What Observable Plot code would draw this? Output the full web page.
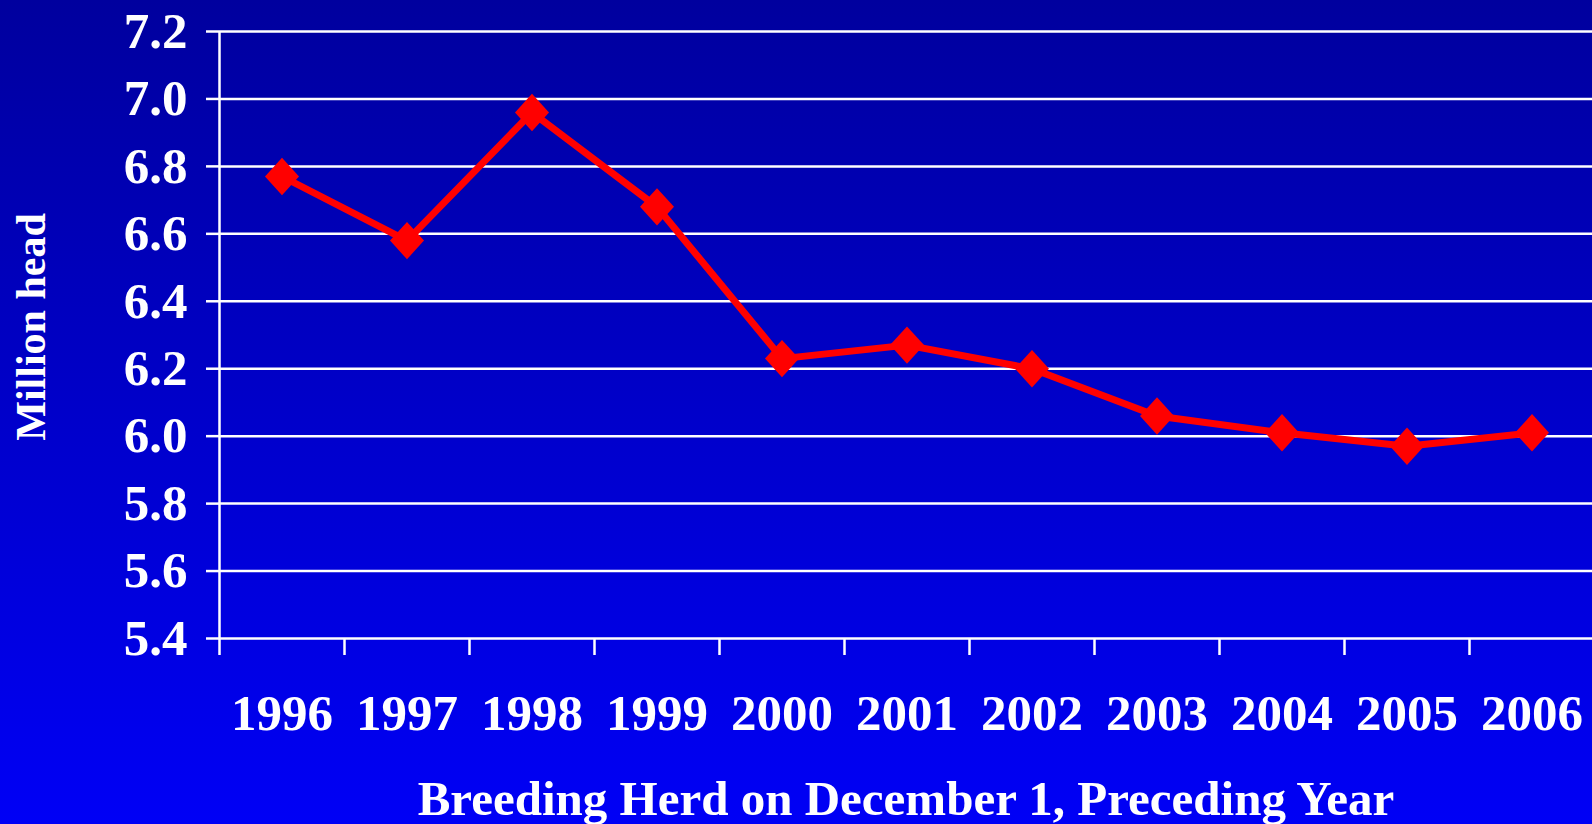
<!DOCTYPE html>
<html>
<head>
<meta charset="utf-8">
<script src="https://cdn.jsdelivr.net/npm/d3@7"></script>
<script src="https://cdn.jsdelivr.net/npm/@observablehq/plot@0.6"></script>
<style>
  html, body { margin: 0; padding: 0; overflow: hidden; background: #0000C8; }
  #chart svg { display: block; }
</style>
</head>
<body>
<div id="chart"></div>
<script>
const years = [1996, 1997, 1998, 1999, 2000, 2001, 2002, 2003, 2004, 2005, 2006];
const values = [6.77, 6.58, 6.96, 6.68, 6.23, 6.27, 6.20, 6.06, 6.01, 5.97, 6.01];
const yTicks = [5.4, 5.6, 5.8, 6.0, 6.2, 6.4, 6.6, 6.8, 7.0, 7.2];
const yLabel = "Million head";
const xLabel = "Breeding Herd on December 1, Preceding Year";

const data = years.map((year, i) => ({year, value: values[i]}));
const boundaries = [years[0] - 0.5, ...years.map(y => y + 0.5)];

const diamond = {
  draw(context, size) {
    const r = Math.sqrt(size / Math.PI);
    const w = r * 1.0, h = r * 1.1;
    context.moveTo(0, -h);
    context.lineTo(w, 0);
    context.lineTo(0, h);
    context.lineTo(-w, 0);
    context.closePath();
  }
};

const font = "'Liberation Serif', 'Times New Roman', serif";

const chart = Plot.plot({
  width: 1592,
  height: 824,
  marginLeft: 219,
  marginRight: 0,
  marginTop: 31,
  marginBottom: 186,
  style: {
    background: "linear-gradient(to bottom, #00009E 0%, #0000F6 100%)",
    fontFamily: font,
    fontWeight: "bold",
    color: "white",
    overflow: "visible"
  },
  x: {type: "linear", domain: [years[0] - 0.5, years[years.length - 1] + 0.5], range: [219, 1594]},
  y: {domain: [5.4, 7.2], range: [638, 31]},
  marks: [
    Plot.ruleY(yTicks, {x1: boundaries[0], x2: boundaries[boundaries.length - 1], stroke: "white", strokeWidth: 2.5}),
    Plot.ruleX([boundaries[0]], {y1: 5.4, y2: 7.2, stroke: "white", strokeWidth: 2.5}),
    Plot.axisY({ticks: yTicks, tickFormat: d3.format(".1f"), tickSize: 13, tickPadding: 19, fontSize: 51, stroke: "white", strokeWidth: 2.5, fill: "white", label: null}),
    Plot.axisX({ticks: boundaries, tickFormat: () => "", tickSize: 17, stroke: "white", strokeWidth: 2.5, label: null}),
    Plot.axisX({ticks: years, tickFormat: d => String(d), tickSize: 0, tickPadding: 55, fontSize: 51, fill: "white", label: null}),
    Plot.line(data, {x: "year", y: "value", stroke: "#FF0000", strokeWidth: 7}),
    Plot.dot(data, {x: "year", y: "value", symbol: diamond, r: 17, fill: "#FF0000", stroke: "none"}),
    Plot.text([yLabel], {frameAnchor: "left", textAnchor: "middle", rotate: -90, dx: -188, dy: -8, fontSize: 42, fill: "white", fontWeight: "bold", lineAnchor: "middle"}),
    Plot.text([xLabel], {frameAnchor: "bottom", dy: 176, fontSize: 49, fill: "white", fontWeight: "bold", lineAnchor: "bottom"})
  ]
});
document.getElementById("chart").appendChild(chart);
</script>
</body>
</html>
